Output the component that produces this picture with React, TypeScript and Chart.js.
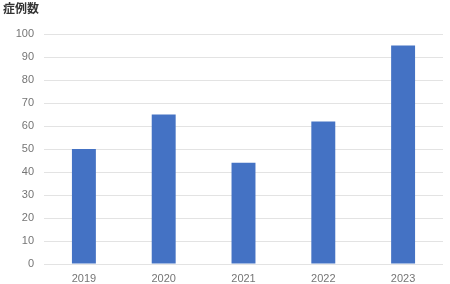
import React, { useEffect, useRef } from "react";
import { Chart, registerables } from "chart.js";

Chart.register(...registerables);

const categories = ["2019", "2020", "2021", "2022", "2023"];
const caseCounts = [50, 65, 44, 62, 95];
const chartTitle = "症例数";

export default function App() {
  const ref = useRef<HTMLCanvasElement | null>(null);

  useEffect(() => {
    if (!ref.current) return;
    const chart = new Chart(ref.current, {
      type: "bar",
      data: {
        labels: categories,
        datasets: [
          {
            label: chartTitle,
            data: caseCounts,
            backgroundColor: "#4472C4",
            borderWidth: 0,
            barPercentage: 0.3,
            categoryPercentage: 1,
          },
        ],
      },
      options: {
        animation: false,
        responsive: true,
        maintainAspectRatio: false,
        layout: { padding: { left: 3, right: 7, top: 0, bottom: 0 } },
        plugins: {
          legend: { display: false },
          tooltip: { enabled: false },
          title: {
            display: true,
            text: chartTitle,
            align: "start",
            color: "#333333",
            font: { family: "'Noto Sans CJK JP', sans-serif", size: 12, weight: "bold", lineHeight: 1.2 },
            padding: { top: 1, bottom: 18.6 },
          },
        },
        scales: {
          x: {
            grid: { display: false, drawTicks: false },
            border: { display: false },
            ticks: {
              color: "#757575",
              padding: 8,
              font: { family: "'Liberation Sans', Arial, sans-serif", size: 11 },
            },
            afterFit: (s: any) => {
              s.height = 20;
            },
          },
          y: {
            min: 0,
            max: 100,
            grid: { color: "#e3e3e3", lineWidth: 1, drawTicks: false },
            border: { display: false },
            ticks: {
              stepSize: 10,
              color: "#757575",
              padding: 10,
              font: { family: "'Liberation Sans', Arial, sans-serif", size: 11 },
            },
            afterFit: (s: any) => {
              s.width = 41;
            },
          },
        },
      },
    });
    return () => chart.destroy();
  }, []);

  return (
    <div style={{ position: "absolute", left: 0, top: 0, width: 450, height: 284, background: "#fff" }}>
      <canvas ref={ref} />
    </div>
  );
}
